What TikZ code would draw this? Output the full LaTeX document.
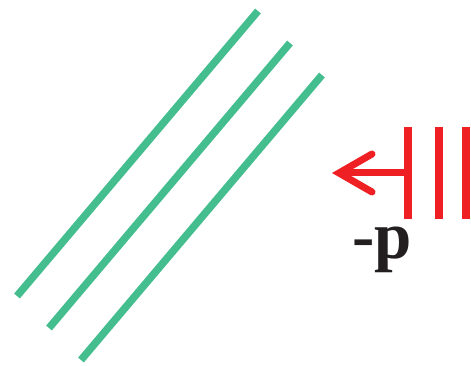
\documentclass[tikz,border=0pt]{standalone}
\usepackage{fontspec}
\usepackage{tikz}
\usetikzlibrary{arrows.meta, positioning}
\usepackage{xcolor}
\definecolor{wavegreen}{HTML}{45BE8F}
\definecolor{pushred}{HTML}{EE2024}
\definecolor{labelblack}{HTML}{231F20}
\newfontfamily\labelfont{Liberation Serif}

\begin{document}
\begin{tikzpicture}[x=1pt, y=-1pt,
    front/.style={draw=wavegreen, line width=7.5pt},
    plate/.style={draw=pushred, line width=7.5pt},
    push/.style={-{Straight Barb[length=33pt, width=38pt, line cap=round]}, draw=pushred, line width=7pt},
    lbl/.style={font=\labelfont\bfseries\fontsize{67}{67}\selectfont, text=labelblack, inner sep=0pt}
  ]
    \useasboundingbox (0,0) rectangle (471,366);
    % wave fronts
    \foreach \i in {0,1,2} {
      \coordinate (f\i a) at (17+32*\i, 296+32*\i);
      \coordinate (f\i b) at (258+32*\i, 11+32*\i);
      \draw[front] (f\i a) -- (f\i b);
    }
    % plates
    \foreach \i/\x in {0/408, 1/439, 2/466} {
      \coordinate (p\i t) at (\x,127);
      \coordinate (p\i b) at (\x,219);
      \draw[plate] (p\i t) -- (p\i b);
    }
    \coordinate (mid) at (408,173);
    \coordinate (tip) at (332,173);
    \draw[push] (mid) -- (tip);
    \node[lbl, anchor=north] (mom) at (382,227) {-p};
  \end{tikzpicture}
\end{document}
